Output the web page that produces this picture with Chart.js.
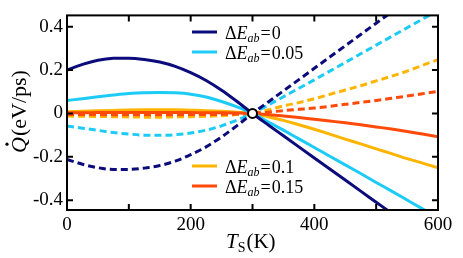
<html>
<head>
<script src="https://cdn.jsdelivr.net/npm/chart.js@4.4.1/dist/chart.umd.min.js"></script>
<style>
  body { margin: 0; background: #fff; }
  #wrap { width: 463px; height: 258px; }
</style>
</head>
<body>
<div id="wrap"><canvas id="myChart"></canvas></div>
<script>
  // temperature grid (K)
  var T = [0, 25, 50, 75, 100, 125, 150, 175, 200, 225, 250, 275, 300,
           325, 350, 375, 400, 425, 450, 475, 500, 525, 550, 575, 600];

  // dE_ab = 0
  var solid0 = [0.200, 0.226, 0.245, 0.254, 0.255, 0.249, 0.237, 0.217, 0.188, 0.152, 0.107, 0.055, 0,
                -0.052, -0.103, -0.154, -0.205, -0.256, -0.307, -0.358, -0.409, -0.460, -0.510, -0.560, -0.610];
  var dash0 = [-0.212, -0.234, -0.250, -0.258, -0.258, -0.252, -0.240, -0.220, -0.190, -0.154, -0.108, -0.056, 0,
               0.052, 0.104, 0.156, 0.208, 0.260, 0.312, 0.364, 0.416, 0.468, 0.520, 0.572, 0.624];
  // dE_ab = 0.05
  var solid1 = [0.060, 0.068, 0.077, 0.085, 0.092, 0.096, 0.097, 0.095, 0.089, 0.076, 0.055, 0.030, 0,
                -0.038, -0.077, -0.117, -0.157, -0.197, -0.237, -0.277, -0.318, -0.358, -0.399, -0.440, -0.480];
  var dash1 = [-0.058, -0.068, -0.078, -0.088, -0.095, -0.100, -0.101, -0.098, -0.090, -0.077, -0.057, -0.031, 0,
               0.038, 0.077, 0.116, 0.155, 0.195, 0.235, 0.275, 0.315, 0.355, 0.395, 0.435, 0.475];
  // dE_ab = 0.1
  var solid2 = [0.008, 0.010, 0.012, 0.014, 0.016, 0.017, 0.017, 0.017, 0.015, 0.013, 0.010, 0.006, 0,
                -0.015, -0.032, -0.052, -0.073, -0.095, -0.118, -0.140, -0.163, -0.185, -0.208, -0.229, -0.250];
  var dash2 = [-0.012, -0.013, -0.014, -0.015, -0.016, -0.017, -0.017, -0.016, -0.015, -0.013, -0.010, -0.005, 0,
               0.016, 0.035, 0.050, 0.068, 0.088, 0.108, 0.128, 0.150, 0.172, 0.195, 0.222, 0.248];
  // dE_ab = 0.15
  var solid3 = [0.003, 0.003, 0.004, 0.004, 0.004, 0.004, 0.004, 0.004, 0.004, 0.003, 0.003, 0.002, 0,
                -0.005, -0.012, -0.019, -0.027, -0.035, -0.043, -0.052, -0.062, -0.072, -0.083, -0.095, -0.107];
  var dash3 = [-0.005, -0.005, -0.005, -0.006, -0.006, -0.006, -0.006, -0.006, -0.005, -0.005, -0.004, -0.003, 0,
               0.006, 0.013, 0.019, 0.025, 0.033, 0.042, 0.051, 0.060, 0.070, 0.080, 0.091, 0.102];

  var legendLabels = ["0", "0.05", "0.1", "0.15"];
  var colors = ["#0b0b7c", "#1ccbf6", "#ffb400", "#ff4a0a"];

  var xTicks = [0, 200, 400, 600];
  var xTickMarks = [100, 200, 300, 400, 500];
  var yTicks = [-0.4, -0.2, 0, 0.2, 0.4];
  var yTickLabels = ["-0.4", "-0.2", "0", "0.2", "0.4"];

  var crossT = 300, crossQ = 0;

  var serif = "'Liberation Serif', 'DejaVu Serif', serif";

  function pts(arr) {
    return T.map((t, i) => ({x: t, y: arr[i]}));
  }

  function line(data, color, dashed, order) {
    return {
      data: pts(data),
      borderColor: color,
      borderWidth: 3,
      borderDash: dashed ? [7, 4] : [],
      pointRadius: 0,
      fill: false,
      cubicInterpolationMode: "monotone",
      order: order
    };
  }

  // legend, frame, inward ticks and axis titles
  var decorations = {
    id: "decorations",
    afterDatasetsDraw(chart) {
      var ctx = chart.ctx, a = chart.chartArea;
      var xs = chart.scales.x, ys = chart.scales.y;
      ctx.save();
      ctx.strokeStyle = "#000";
      ctx.lineWidth = 2;
      ctx.strokeRect(a.left, a.top, a.right - a.left, a.bottom - a.top);
      ctx.beginPath();
      xTickMarks.forEach(v => {
        var px = xs.getPixelForValue(v);
        ctx.moveTo(px, a.bottom); ctx.lineTo(px, a.bottom - 6);
        ctx.moveTo(px, a.top); ctx.lineTo(px, a.top + 6);
      });
      yTicks.forEach(v => {
        var py = ys.getPixelForValue(v);
        ctx.moveTo(a.left, py); ctx.lineTo(a.left + 6, py);
        ctx.moveTo(a.right, py); ctx.lineTo(a.right - 6, py);
      });
      ctx.stroke();

      // legend entries
      var rows = [32, 52, 166, 186];
      rows.forEach((ly, i) => {
        ctx.strokeStyle = colors[i];
        ctx.lineWidth = 3;
        ctx.beginPath();
        ctx.moveTo(192, ly); ctx.lineTo(217, ly);
        ctx.stroke();
        drawDE(ctx, 225, ly + 6.5, legendLabels[i]);
      });

      // x title
      ctx.fillStyle = "#000";
      ctx.textBaseline = "alphabetic";
      ctx.textAlign = "left";
      var x = 226, y = 248;
      ctx.font = "italic 21px " + serif;
      ctx.fillText("T", x, y); x += ctx.measureText("T").width;
      ctx.font = "14px " + serif;
      ctx.fillText("S", x, y + 4); x += ctx.measureText("S").width + 1;
      ctx.font = "21px " + serif;
      ctx.fillText("(K)", x, y);

      // y title
      ctx.translate(26, 112);
      ctx.rotate(-Math.PI / 2);
      ctx.font = "italic 22px " + serif;
      var qw = ctx.measureText("Q").width;
      ctx.font = "22px " + serif;
      var rest = "(eV/ps)";
      var rw = ctx.measureText(rest).width;
      var sx = -(qw + rw) / 2;
      ctx.font = "italic 22px " + serif;
      ctx.fillText("Q", sx, 0);
      ctx.beginPath();
      ctx.arc(sx + qw * 0.55, -19, 1.6, 0, Math.PI * 2);
      ctx.fill();
      ctx.font = "22px " + serif;
      ctx.fillText(rest, sx + qw + 1, 0);
      ctx.restore();
    }
  };

  function drawDE(ctx, x, y, val) {
    ctx.fillStyle = "#000";
    ctx.textAlign = "left";
    ctx.textBaseline = "alphabetic";
    ctx.font = "18px " + serif;
    ctx.fillText("\u0394", x, y); x += ctx.measureText("\u0394").width;
    ctx.font = "italic 18px " + serif;
    ctx.fillText("E", x, y); x += ctx.measureText("E").width;
    ctx.font = "italic 12px " + serif;
    ctx.fillText("ab", x, y + 3); x += ctx.measureText("ab").width + 1;
    ctx.font = "18px " + serif;
    ctx.fillText("=", x, y); x += ctx.measureText("=").width + 1;
    ctx.fillText(val, x, y);
  }

  var datasets = [
    line(dash2, colors[2], true, 8),
    line(dash3, colors[3], true, 7),
    line(solid2, colors[2], false, 6),
    line(solid3, colors[3], false, 5),
    line(dash1, colors[1], true, 4),
    line(solid1, colors[1], false, 3),
    line(dash0, colors[0], true, 2),
    line(solid0, colors[0], false, 1),
    {
      data: [{x: crossT, y: crossQ}],
      showLine: false,
      pointRadius: 4.5,
      pointBackgroundColor: "#fff",
      pointBorderColor: "#000",
      pointBorderWidth: 2,
      clip: false,
      order: 0
    }
  ];

  var ctx = document.getElementById("myChart").getContext("2d");
  var chart = new Chart(ctx, {
    type: "line",
    data: { datasets: datasets },
    options: {
      responsive: true,
      maintainAspectRatio: false,
      animation: false,
      layout: { padding: { left: 0, right: 25, top: 6, bottom: 0 } },
      plugins: { legend: { display: false }, tooltip: { enabled: false } },
      scales: {
        x: {
          type: "linear",
          min: 0, max: 600,
          grid: { display: false, drawTicks: false },
          border: { display: false },
          afterBuildTicks: s => { s.ticks = xTicks.map(v => ({value: v})); },
          afterFit: s => { s.height = 48; },
          ticks: {
            color: "#000",
            padding: 4,
            maxRotation: 0,
            font: { family: serif, size: 19 },
            callback: v => String(v)
          }
        },
        y: {
          type: "linear",
          min: -0.445, max: 0.452,
          grid: { display: false, drawTicks: false },
          border: { display: false },
          afterBuildTicks: s => { s.ticks = yTicks.map(v => ({value: v})); },
          afterFit: s => { s.width = 67; },
          ticks: {
            color: "#000",
            padding: 4,
            font: { family: serif, size: 19 },
            callback: (v, i) => yTickLabels[yTicks.indexOf(v)]
          }
        }
      }
    },
    plugins: [decorations]
  });
</script>
</body>
</html>
